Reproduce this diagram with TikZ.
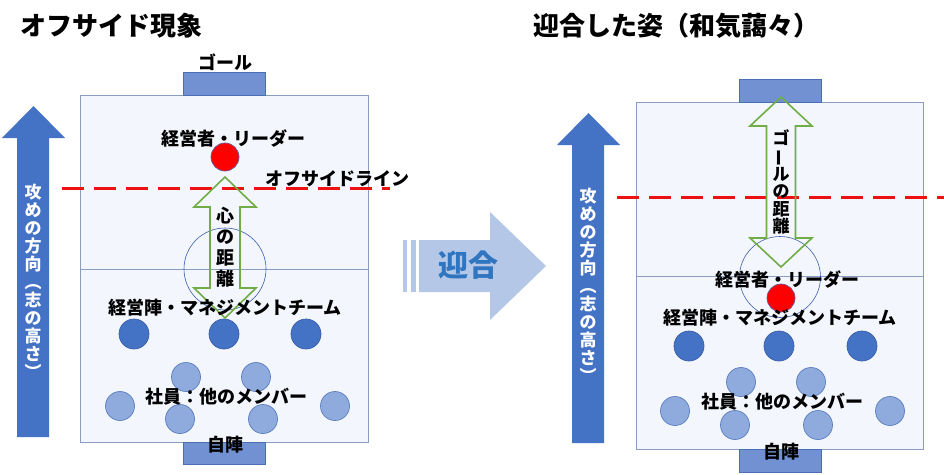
\documentclass[tikz,border=0pt]{standalone}
\usepackage{fontspec}
\setmainfont{Noto Sans CJK JP}
\definecolor{fieldfill}{HTML}{F3F6FC}
\definecolor{fieldline}{HTML}{8A9CC0}
\definecolor{goalfill}{HTML}{7291D2}
\definecolor{goalline}{HTML}{4A6FB5}
\definecolor{darkb}{HTML}{4472C4}
\definecolor{darkline}{HTML}{3A5FA8}
\definecolor{lightb}{HTML}{8FAADC}
\definecolor{lightline}{HTML}{5A7EC0}
\definecolor{redline}{HTML}{6A5A9A}
\definecolor{greenar}{HTML}{70AD47}
\definecolor{midar}{HTML}{B4C7E7}
\definecolor{midtext}{HTML}{2F75C0}
\definecolor{offred}{HTML}{EE1111}
\tikzset{
  field/.style={draw=fieldline, fill=fieldfill, line width=0.8pt},
  goalbox/.style={draw=goalline, fill=goalfill, line width=0.8pt},
  darkdot/.style={circle, minimum size=30pt, inner sep=0pt, fill=darkb, draw=darkline, line width=0.7pt},
  lightdot/.style={circle, minimum size=29pt, inner sep=0pt, fill=lightb, draw=lightline, line width=0.7pt},
  reddot/.style={circle, minimum size=28pt, inner sep=0pt, fill=red, draw=redline, line width=0.7pt},
  ring/.style={circle, inner sep=0pt, draw=darkline, line width=0.6pt},
  offside/.style={draw=offred, line width=3pt, dash pattern=on 22pt off 10pt},
  greenarrow/.style={draw=greenar, line width=1.6pt, line join=miter},
  bigarrow/.style={fill=darkb},
  lbl/.style={font=\fontsize{18}{20}\selectfont\bfseries, inner sep=0pt, text=black},
  ttl/.style={font=\fontsize{26}{28}\selectfont\bfseries, inner sep=0pt, anchor=west, text=black},
  vtext/.style={align=center, inner sep=0pt, font=\bfseries},
}
\newcommand\vchoon{\rotatebox[origin=c]{90}{ー}}
\begin{document}
\begin{tikzpicture}[x=1pt,y=-1pt]
\useasboundingbox (0,0) rectangle (944,474);
\fill[white] (0,0) rectangle (944,474);

% ---------- titles
\node[ttl] (t1) at (20,26) {オフサイド現象};
\node[ttl] (t2) at (533,26) {迎合した姿（和気藹々）};

% ================= LEFT PANEL
\draw[field] (80,95) rectangle (368,442);
\draw[fieldline, line width=0.8pt] (80,269) -- (368,269);
\node[ring, minimum size=82pt] (lring) at (225,269) {};
\draw[goalbox] (183,72) rectangle (265,95);
\draw[goalbox] (183,442) rectangle (265,464);

% big arrow left
\fill[bigarrow] (17,437) -- (17,138) -- (2,138) -- (33.5,106) -- (65,138) -- (49,138) -- (49,437) -- cycle;
\node[vtext, text=white, font=\fontsize{17}{18}\selectfont\bfseries] (ldir) at (33,281)
  {攻\\め\\の\\方\\向\\︵\\志\\の\\高\\さ\\︶};

% circles
\node[reddot] (lleader) at (225,157) {};
\node[darkdot] (lm1) at (134,334) {};
\node[darkdot] (lm2) at (224,334) {};
\node[darkdot] (lm3) at (306,334) {};
\node[lightdot] (le1) at (186,377) {};
\node[lightdot] (le2) at (256,377) {};
\node[lightdot] (le3) at (120,406) {};
\node[lightdot] (le4) at (180,419) {};
\node[lightdot] (le5) at (263,419) {};
\node[lightdot] (le6) at (335,406) {};

% offside line
\draw[offside] (62,188) -- (390,188);

% green double arrow
\draw[greenarrow] (225,177) -- (256,207) -- (240,207) -- (240,288) -- (256,288) -- (225,318)
  -- (194,288) -- (210,288) -- (210,207) -- (194,207) -- cycle;
\node[vtext, font=\fontsize{18}{21}\selectfont\bfseries] (lheart) at (225,247) {心\\の\\距\\離};

% labels
\node[lbl] (lgoal) at (225,62) {ゴール};
\node[lbl] (lleadert) at (233,139) {経営者・リーダー};
\node[lbl] (loff) at (337,179) {オフサイドライン};
\node[lbl] (lmgmt) at (225,308) {経営陣・マネジメントチーム};
\node[lbl] (lemp) at (226,397) {社員：他のメンバー};
\node[lbl] (lhome) at (225,445) {自陣};

% ================= MIDDLE ARROW
\fill[midar] (403,240) rectangle (407,292);
\fill[midar] (411,240) rectangle (416,292);
\fill[midar] (419,240) -- (490,240) -- (490,212) -- (546,266) -- (490,320) -- (490,292) -- (419,292) -- cycle;
\node[font=\fontsize{30}{32}\selectfont\bfseries, text=midtext, inner sep=0pt] (geigo) at (468,265) {迎合};

% ================= RIGHT PANEL
\draw[field] (636,102) rectangle (923,449);
\draw[fieldline, line width=0.8pt] (636,276) -- (923,276);
\node[ring, minimum size=81pt] (rring) at (780,277) {};
\draw[goalbox] (739,79) rectangle (821,102);
\draw[goalbox] (739,449) rectangle (821,472);

% big arrow right
\fill[bigarrow] (572,443) -- (572,145) -- (557,145) -- (588.5,113) -- (620,145) -- (604,145) -- (604,443) -- cycle;
\node[vtext, text=white, font=\fontsize{17}{18}\selectfont\bfseries] (rdir) at (588,285)
  {攻\\め\\の\\方\\向\\︵\\志\\の\\高\\さ\\︶};

% circles
\node[reddot] (rleader) at (781,298) {};
\node[darkdot] (rm1) at (689,346) {};
\node[darkdot] (rm2) at (779,346) {};
\node[darkdot] (rm3) at (862,346) {};
\node[lightdot] (re1) at (741,382) {};
\node[lightdot] (re2) at (811,382) {};
\node[lightdot] (re3) at (675,411) {};
\node[lightdot] (re4) at (735,425) {};
\node[lightdot] (re5) at (818,425) {};
\node[lightdot] (re6) at (890,411) {};

% offside line
\draw[offside] (617,197) -- (944,197);

% green double arrow
\draw[greenarrow] (781,97) -- (812,126) -- (795.5,126) -- (795.5,238) -- (812,238) -- (781,267)
  -- (750,238) -- (766.5,238) -- (766.5,126) -- (750,126) -- cycle;
\node[vtext, font=\fontsize{17}{17.5}\selectfont\bfseries] (rdist) at (781,182) {ゴ\\\vchoon\\ル\\の\\距\\離};

% labels
\node[lbl] (rleadert) at (787,280) {経営者・リーダー};
\node[lbl] (rmgmt) at (780,318) {経営陣・マネジメントチーム};
\node[lbl] (remp) at (782,402) {社員：他のメンバー};
\node[lbl] (rhome) at (781,452) {自陣};
\end{tikzpicture}
\end{document}
